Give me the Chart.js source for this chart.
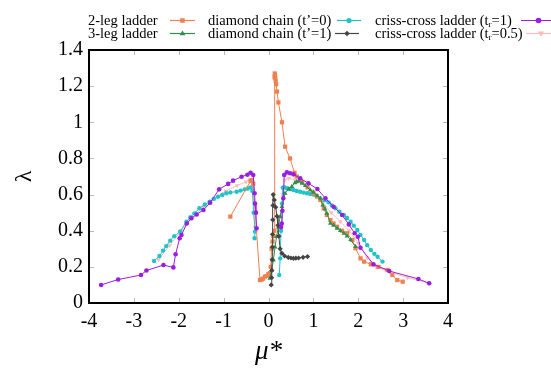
<!DOCTYPE html>
<html><head><meta charset="utf-8">
<script src="https://cdn.jsdelivr.net/npm/chart.js@4.4.0/dist/chart.umd.min.js"></script>
<style>
html,body{margin:0;padding:0;background:#fff;}
#wrap{position:relative;width:551px;height:371px;overflow:hidden;}
#c{position:absolute;left:0;top:0;}
.lg{position:absolute;font-family:"Liberation Serif","Times New Roman",serif;font-size:14.5px;line-height:14px;color:#000;white-space:nowrap;}
.lg sub{font-size:9px;vertical-align:-2px;line-height:0;}
</style></head><body>
<div id="wrap">
<canvas id="c" width="551" height="371"></canvas>
<div class="lg" style="left:88px;top:13px">2-leg ladder</div>
<div class="lg" style="left:88px;top:26px">3-leg ladder</div>
<div class="lg" style="left:208px;top:13px">diamond chain (t’=0)</div>
<div class="lg" style="left:208px;top:26px">diamond chain (t’=1)</div>
<div class="lg" style="left:375px;top:13px">criss-cross ladder (t<sub>r</sub>=1)</div>
<div class="lg" style="left:375px;top:26px">criss-cross ladder (t<sub>r</sub>=0.5)</div>
</div>
<script>
// ---- data ----
const xTicks = [-4,-3,-2,-1,0,1,2,3,4];
const yTicks = [0,0.2,0.4,0.6,0.8,1,1.2,1.4];
const yTickLabels = ['0','0.2','0.4','0.6','0.8','1','1.2','1.4'];

const twoLegX = [-0.85,-0.40,-0.37,-0.34,-0.19,-0.15,-0.12,-0.08,-0.04,0.0,0.03,0.05,0.07,0.09,0.11,0.13,0.135,0.14,0.145,0.15,0.16,0.17,0.19,0.22,0.30,0.37,0.48,0.58,0.63,0.75,0.87,1.0,1.08,1.155,1.23,1.30,1.38,1.45,1.53,1.64,1.75,1.87,1.94,2.05,2.13,2.28,2.45,2.65,2.76,2.87,2.99];
const twoLegY = [0.478,0.675,0.68,0.66,0.127,0.13,0.135,0.146,0.15,0.16,0.165,0.2,0.30,0.34,0.37,0.40,1.25,1.27,1.26,1.245,1.23,1.21,1.17,1.11,1.0,0.865,0.80,0.72,0.70,0.67,0.64,0.607,0.59,0.57,0.524,0.487,0.459,0.44,0.422,0.40,0.386,0.349,0.303,0.247,0.229,0.214,0.20,0.183,0.155,0.127,0.118];

const threeLegX = [0.03,0.07,0.11,0.146,0.18,0.22,0.26,0.30,0.37,0.45,0.52,0.59,0.63,0.67,0.75,0.82,0.93,1.0,1.08,1.155,1.21,1.26,1.30,1.38,1.45,1.53,1.60,1.68,1.75,1.83,1.94];
const threeLegY = [0.137,0.18,0.238,0.31,0.367,0.42,0.478,0.533,0.607,0.63,0.644,0.665,0.671,0.675,0.662,0.649,0.625,0.612,0.595,0.579,0.542,0.52,0.496,0.441,0.43,0.413,0.40,0.386,0.37,0.349,0.312];

const diamond0X = [-2.55,-2.43,-2.35,-2.28,-2.19,-2.10,-1.97,-1.83,-1.74,-1.65,-1.54,-1.42,-1.31,-1.22,-1.125,-1.03,-0.94,-0.85,-0.71,-0.62,-0.53,-0.46,-0.40,-0.36,-0.33,-0.30,-0.31,
  null,
  0.24,0.26,0.28,0.30,0.318,0.36,0.41,0.48,0.556,0.63,0.706,0.78,0.856,0.93,1.005,1.08,1.155,1.25,1.34,1.41,1.49,1.58,1.68,1.75,1.83,1.9,1.98,2.05,2.13,2.2,2.28,2.36,2.43,2.54];
const diamond0Y = [0.232,0.26,0.29,0.315,0.345,0.37,0.395,0.45,0.475,0.496,0.524,0.545,0.561,0.576,0.588,0.598,0.607,0.612,0.616,0.622,0.629,0.634,0.64,0.621,0.50,0.395,0.358,
  null,
  0.155,0.247,0.40,0.55,0.638,0.64,0.635,0.63,0.625,0.62,0.616,0.611,0.607,0.603,0.60,0.59,0.579,0.568,0.557,0.54,0.524,0.505,0.487,0.47,0.45,0.428,0.404,0.377,0.349,0.32,0.293,0.272,0.256,0.229];

const diamond1X = [0.06,0.07,0.075,0.08,0.085,0.09,0.095,0.10,0.105,0.13,0.16,0.19,0.21,0.23,0.26,0.30,0.36,0.44,0.50,0.556,0.61,0.67,0.77,0.87];
const diamond1Y = [0.10,0.14,0.18,0.24,0.31,0.38,0.46,0.54,0.60,0.57,0.53,0.48,0.43,0.37,0.30,0.275,0.26,0.252,0.249,0.247,0.248,0.249,0.253,0.257];

const crissCross1X = [-3.73,-3.35,-2.84,-2.72,-2.34,-2.12,-2.07,-1.98,-1.94,-1.82,-1.72,-1.60,-1.45,-1.30,-1.10,-0.90,-0.79,-0.60,-0.47,-0.40,-0.34,-0.31,-0.30,-0.28,-0.265,
  null,
  0.28,0.295,0.31,0.33,0.35,0.41,0.48,0.556,0.706,0.89,1.09,1.27,1.45,1.64,1.79,1.92,1.99,2.05,2.34,2.69,3.34,3.58];
const crissCross1Y = [0.10,0.13,0.155,0.18,0.21,0.197,0.27,0.358,0.376,0.44,0.469,0.49,0.515,0.555,0.629,0.659,0.677,0.699,0.71,0.721,0.708,0.607,0.55,0.50,0.413,
  null,
  0.42,0.44,0.51,0.58,0.708,0.723,0.718,0.712,0.69,0.662,0.631,0.579,0.533,0.487,0.435,0.386,0.367,0.306,0.214,0.177,0.133,0.109];

const crissCross05X = [-2.45,-2.2,-1.95,-1.7,-1.45,-1.2,-0.95,-0.7,-0.5,-0.4,-0.36,-0.32,-0.30,
  null,
  0.30,0.32,0.36,0.45,0.6,0.8,1.0,1.2,1.4,1.6,1.8,2.0,2.2,2.4,2.7,3.1,3.58];
const crissCross05Y = [0.24,0.32,0.40,0.47,0.53,0.58,0.62,0.65,0.67,0.685,0.67,0.50,0.42,
  null,
  0.43,0.60,0.68,0.69,0.68,0.655,0.62,0.56,0.50,0.45,0.40,0.33,0.25,0.20,0.17,0.14,0.11];

// ---- chart ----
const toPts = (xs, ys) => xs.map((x, i) => ({x: x, y: ys[i]}));
function series(label, xs, ys, color, style, radius, rotation) {
  return {
    label, data: toPts(xs, ys), showLine: true, spanGaps: false,
    borderColor: color, backgroundColor: color, borderWidth: 1,
    pointStyle: style, pointRadius: radius, pointRotation: rotation || 0,
    pointBorderWidth: 0, pointHoverRadius: radius
  };
}
const C_ORANGE = '#ef8050', C_GREEN = '#2f8f4f', C_CYAN = '#22c3c8',
      C_GRAY = '#444444', C_PURPLE = '#9a1ee0', C_PINK = '#fbbcbc';

const datasets = [
  series('criss-cross ladder (tr=1)', crissCross1X, crissCross1Y, C_PURPLE, 'circle', 2.3),
  series('diamond chain (t\u2019=1)', diamond1X, diamond1Y, C_GRAY, 'rectRot', 2.6),
  series('3-leg ladder', threeLegX, threeLegY, C_GREEN, 'triangle', 2.8),
  series('2-leg ladder', twoLegX, twoLegY, C_ORANGE, 'rect', 3),
  series('diamond chain (t\u2019=0)', diamond0X, diamond0Y, C_CYAN, 'circle', 2.2),
  series('criss-cross ladder (tr=0.5)', crissCross05X, crissCross05Y, C_PINK, 'triangle', 2.8, 180)
];

const legendSamples = [
  {color: C_ORANGE, style: 'rect', r: 3.2, x0: 170, x1: 195, y: 20},
  {color: C_GREEN, style: 'triangle', r: 3, x0: 170, x1: 195, y: 33},
  {color: C_CYAN, style: 'circle', r: 2.6, x0: 337, x1: 361, y: 20},
  {color: C_GRAY, style: 'rectRot', r: 2.8, x0: 335, x1: 359, y: 33},
  {color: C_PURPLE, style: 'circle', r: 2.8, x0: 521, x1: 556, y: 20},
  {color: C_PINK, style: 'triangle', r: 3.2, rot: 180, x0: 526, x1: 556, y: 33}
];

function drawMarker(ctx, s, x, y) {
  ctx.fillStyle = s.color;
  ctx.beginPath();
  const r = s.r;
  if (s.style === 'circle') {
    ctx.arc(x, y, r, 0, Math.PI * 2);
  } else if (s.style === 'rect') {
    const h = r * Math.SQRT1_2;
    ctx.rect(x - h, y - h, 2 * h, 2 * h);
  } else if (s.style === 'rectRot') {
    ctx.moveTo(x, y - r); ctx.lineTo(x + r, y); ctx.lineTo(x, y + r); ctx.lineTo(x - r, y);
    ctx.closePath();
  } else if (s.style === 'triangle') {
    const d = s.rot === 180 ? -1 : 1;
    ctx.moveTo(x, y - d * r); ctx.lineTo(x + r * 0.95, y + d * r * 0.6); ctx.lineTo(x - r * 0.95, y + d * r * 0.6);
    ctx.closePath();
  }
  ctx.fill();
}

const framePlugin = {
  id: 'frame',
  afterDatasetsDraw(chart) {
    const {ctx, chartArea: a, scales} = chart;
    ctx.save();
    ctx.strokeStyle = '#b8b8b8';
    ctx.lineWidth = 1;
    ctx.beginPath();
    xTicks.forEach(v => {
      const px = Math.round(scales.x.getPixelForValue(v)) + 0.5;
      ctx.moveTo(px, a.bottom); ctx.lineTo(px, a.bottom - 5);
      ctx.moveTo(px, a.top); ctx.lineTo(px, a.top + 5);
    });
    yTicks.forEach(v => {
      const py = Math.round(scales.y.getPixelForValue(v)) + 0.5;
      ctx.moveTo(a.left, py); ctx.lineTo(a.left + 5, py);
      ctx.moveTo(a.right, py); ctx.lineTo(a.right - 5, py);
    });
    ctx.stroke();
    ctx.strokeStyle = '#000';
    ctx.lineWidth = 2;
    ctx.strokeRect(a.left, a.top, a.right - a.left, a.bottom - a.top);
    // legend samples
    legendSamples.forEach(s => {
      ctx.strokeStyle = s.color;
      ctx.lineWidth = 1.2;
      ctx.beginPath();
      ctx.moveTo(s.x0, s.y + 0.5); ctx.lineTo(s.x1, s.y + 0.5);
      ctx.stroke();
      drawMarker(ctx, s, (s.x0 + s.x1) / 2, s.y + 0.5);
    });
    ctx.restore();
  }
};

const serif = '"Liberation Serif", "Times New Roman", serif';
new Chart(document.getElementById('c'), {
  type: 'scatter',
  data: {datasets},
  options: {
    responsive: false,
    animation: false,
    events: [],
    layout: {padding: {left: 0, right: 103, top: 50, bottom: 0}},
    plugins: {legend: {display: false}, tooltip: {enabled: false}},
    scales: {
      x: {
        type: 'linear', min: -4, max: 4,
        afterBuildTicks: s => { s.ticks = xTicks.map(v => ({value: v})); },
        afterFit: s => { s.height = 68; },
        ticks: {font: {family: serif, size: 20}, color: '#000', padding: 7, maxRotation: 0,
          callback: v => String(v)},
        grid: {display: false, drawTicks: false},
        border: {display: false},
        title: {display: true, text: 'μ*', color: '#000',
          font: {family: serif, size: 27, style: 'italic', lineHeight: 1},
          padding: {top: 0, bottom: 6}}
      },
      y: {
        type: 'linear', min: 0, max: 1.4,
        afterBuildTicks: s => { s.ticks = yTicks.map(v => ({value: v})); },
        afterFit: s => { s.width = 89; },
        ticks: {font: {family: serif, size: 20}, color: '#000', padding: 6,
          callback: (v, i) => yTickLabels[i]},
        grid: {display: false, drawTicks: false},
        border: {display: false},
        title: {display: true, text: 'λ', color: '#000',
          font: {family: serif, size: 24, lineHeight: 1},
          padding: {top: 13, bottom: 0}}
      }
    }
  },
  plugins: [framePlugin]
});
</script>
</body></html>
